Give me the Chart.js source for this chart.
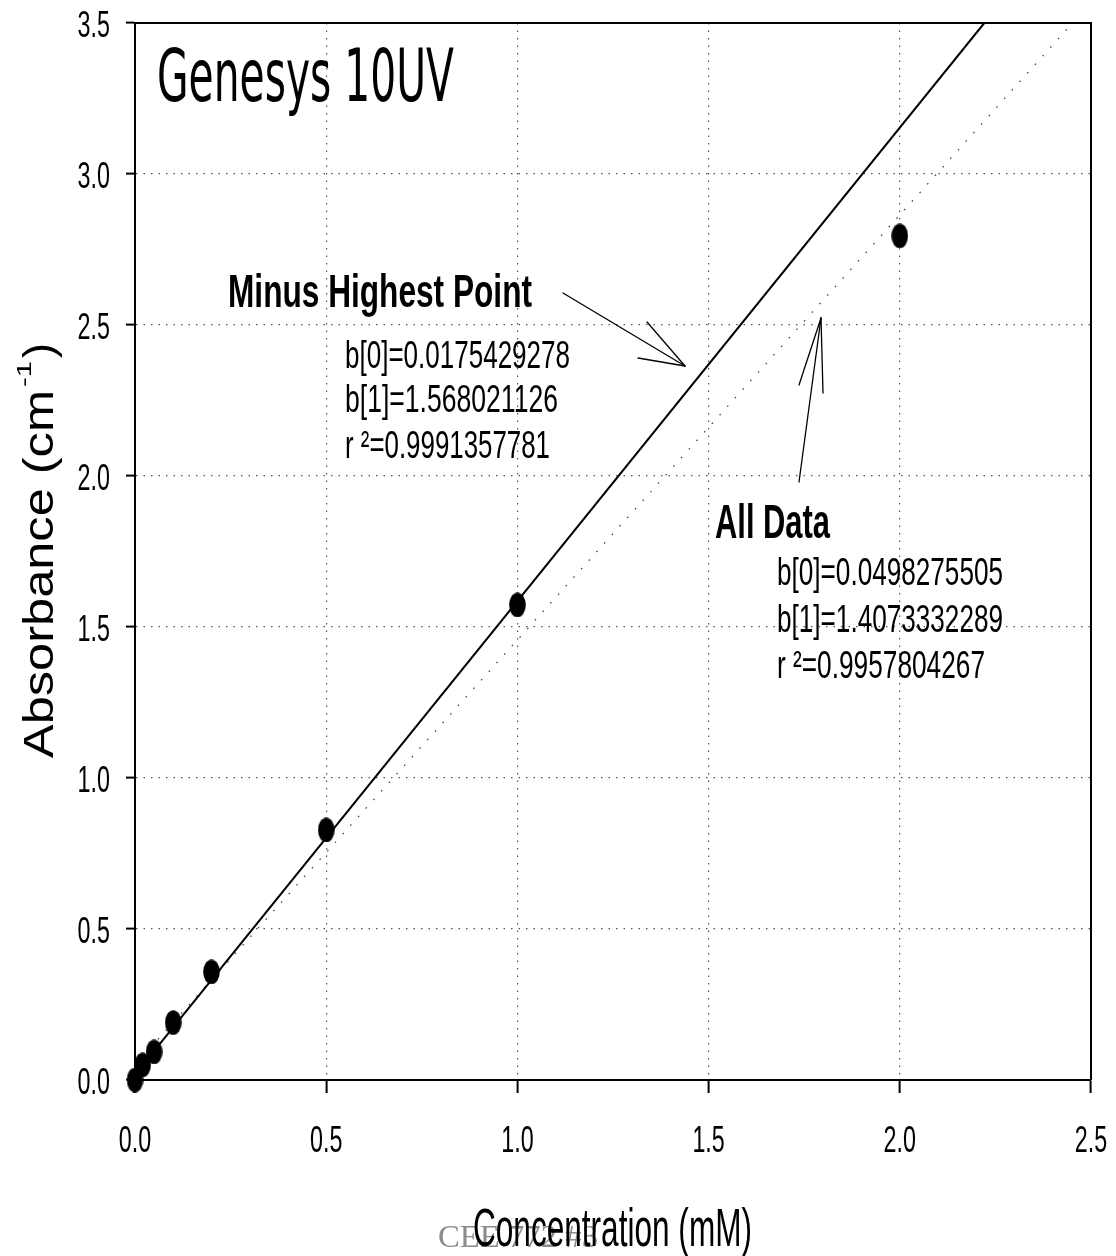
<!DOCTYPE html>
<html>
<head>
<meta charset="utf-8">
<script src="https://cdn.jsdelivr.net/npm/chart.js@4.4.0/dist/chart.umd.min.js"></script>
<style>
html,body{margin:0;padding:0;background:#fff;}
#wrap{width:1116px;height:1256px;}
</style>
</head>
<body>
<div id="wrap"><canvas id="c" width="1116" height="1256"></canvas></div>
<script>
// ---- data ----
const concentration = [0, 0.02, 0.05, 0.1, 0.2, 0.5, 1.0, 2.0];          // mM
const absorbance    = [0.0, 0.05, 0.093, 0.19, 0.358, 0.828, 1.573, 2.795]; // cm^-1

// fitted lines (end points as drawn)
const fitMinusHighestX = [0, 2.2209];
const fitMinusHighestY = [0.0175, 3.5];
const fitAllDataX      = [0, 2.4516];
const fitAllDataY      = [0.0498, 3.5];

const xTickLabels = ['0.0', '0.5', '1.0', '1.5', '2.0', '2.5'];
const yTickLabels = ['0.0', '0.5', '1.0', '1.5', '2.0', '2.5', '3.0', '3.5'];

const chartTitle = 'Genesys 10UV';
const xTitle = 'Concentration (mM)';
const yTitleMain = 'Absorbance (cm';
const yTitleSup = '-1';
const yTitleEnd = ')';
const footerText = 'CEE 772 #3';
const minusLabel = 'Minus Highest Point';
const minusStats = ['b[0]=0.0175429278', 'b[1]=1.568021126', 'r \u00b2=0.9991357781'];
const allLabel = 'All Data';
const allStats = ['b[0]=0.0498275505', 'b[1]=1.4073332289', 'r \u00b2=0.9957804267'];

const zip = (xs, ys) => xs.map((x, i) => ({x: x, y: ys[i]}));

// ellipse marker
const marker = document.createElement('canvas');
marker.width = 17; marker.height = 25;
(function(){
  const m = marker.getContext('2d');
  m.fillStyle = '#000';
  m.beginPath();
  m.ellipse(8.5, 12.5, 8.3, 12.3, 0, 0, Math.PI * 2);
  m.fill();
})();

const SANS = "'Liberation Sans', Arial, sans-serif";

function fitText(ctx, text, x, y, font, width, align) {
  ctx.font = font;
  const w = ctx.measureText(text).width;
  const sx = width / w;
  ctx.save();
  ctx.translate(x, y);
  ctx.scale(sx, 1);
  let ox = 0;
  if (align === 'center') ox = -w / 2;
  else if (align === 'right') ox = -w;
  ctx.textAlign = 'left';
  ctx.textBaseline = 'alphabetic';
  ctx.fillText(text, ox, 0);
  ctx.restore();
}

function scaledText(ctx, text, x, y, font, sx, align) {
  ctx.font = font;
  const w = ctx.measureText(text).width;
  fitText(ctx, text, x, y, font, w * sx, align);
}

const decorations = {
  id: 'decorations',
  afterDraw(chart) {
    const ctx = chart.ctx;
    const a = chart.chartArea;
    const xs = chart.scales.x, ys = chart.scales.y;
    ctx.save();
    // frame (top & right)
    ctx.strokeStyle = '#000';
    ctx.lineWidth = 2;
    ctx.beginPath();
    ctx.moveTo(a.left, a.top);
    ctx.lineTo(a.right, a.top);
    ctx.lineTo(a.right, a.bottom);
    ctx.stroke();

    ctx.fillStyle = '#000';
    // tick labels (condensed)
    const tickFont = '37px ' + SANS;
    xs.ticks.forEach((t, i) => {
      const px = xs.getPixelForTick(i);
      scaledText(ctx, t.label, px, a.bottom + 72, tickFont, 0.63, 'center');
    });
    ys.ticks.forEach((t, i) => {
      const py = ys.getPixelForTick(i);
      scaledText(ctx, t.label, a.left - 25, py + 13.5, tickFont, 0.63, 'right');
    });

    // footer (gray, behind axis title)
    ctx.fillStyle = '#8c8c8c';
    fitText(ctx, footerText, 438, 1247, "32px 'Liberation Serif', 'Times New Roman', serif", 160, 'left');

    ctx.fillStyle = '#000';
    // x axis title
    fitText(ctx, xTitle, 473, 1246, '53px ' + SANS, 279, 'left');

    // y axis title (rotated)
    ctx.save();
    ctx.translate(53, 758);
    ctx.rotate(-Math.PI / 2);
    fitText(ctx, yTitleMain, 0, 0, '43px ' + SANS, 368, 'left');
    fitText(ctx, yTitleSup, 371, -22, '20px ' + SANS, 26, 'left');
    fitText(ctx, yTitleEnd, 400, 0, '43px ' + SANS, 15, 'left');
    ctx.restore();

    // chart title
    fitText(ctx, chartTitle, 157, 101, "73px 'DejaVu Sans', sans-serif", 297, 'left');

    // annotations
    fitText(ctx, minusLabel, 228, 307, 'bold 46px ' + SANS, 304, 'left');
    const mw = [225, 213, 205];
    const mb = [368, 412, 458];
    minusStats.forEach((s, i) => fitText(ctx, s, 345, mb[i], '38px ' + SANS, mw[i], 'left'));

    fitText(ctx, allLabel, 715, 538, 'bold 48px ' + SANS, 115, 'left');
    const aw = [226, 226, 208];
    const ab = [585, 632, 678];
    allStats.forEach((s, i) => fitText(ctx, s, 777, ab[i], '38px ' + SANS, aw[i], 'left'));

    // arrows
    ctx.strokeStyle = '#000';
    ctx.lineWidth = 1.3;
    ctx.lineCap = 'round';
    const seg = (x1, y1, x2, y2) => { ctx.beginPath(); ctx.moveTo(x1, y1); ctx.lineTo(x2, y2); ctx.stroke(); };
    seg(563, 293, 685, 366);
    seg(685, 366, 647, 322);
    seg(685, 366, 638, 358);
    seg(799, 482, 821, 318);
    seg(821, 318, 799, 385);
    seg(821, 318, 823, 393);
    ctx.restore();
  }
};

new Chart(document.getElementById('c'), {
  type: 'scatter',
  data: {
    datasets: [
      {
        label: 'Data',
        data: zip(concentration, absorbance),
        pointStyle: marker,
        pointRadius: 9,
        pointHoverRadius: 9,
        showLine: false,
        clip: false
      },
      {
        label: 'Minus Highest Point',
        data: zip(fitMinusHighestX, fitMinusHighestY),
        showLine: true,
        borderColor: '#000',
        borderWidth: 2,
        pointRadius: 0,
        fill: false
      },
      {
        label: 'All Data',
        data: zip(fitAllDataX, fitAllDataY),
        showLine: true,
        borderColor: '#444',
        borderWidth: 1.3,
        borderDash: [1.5, 10],
        pointRadius: 0,
        fill: false
      }
    ]
  },
  options: {
    responsive: false,
    animation: false,
    events: [],
    layout: { padding: { left: 126, right: 25, top: 23, bottom: 163 } },
    plugins: { legend: { display: false }, tooltip: { enabled: false } },
    scales: {
      x: {
        type: 'linear',
        min: 0, max: 2.5,
        ticks: { display: false, stepSize: 0.5, callback: (v, i) => xTickLabels[i] },
        grid: { color: '#555', lineWidth: 1.2, drawTicks: true, tickLength: 13, tickColor: '#000', tickWidth: 2, tickBorderDash: [] },
        border: { display: true, color: '#000', width: 2, dash: [1.5, 6] }
      },
      y: {
        type: 'linear',
        min: 0, max: 3.5,
        ticks: { display: false, stepSize: 0.5, callback: (v, i) => yTickLabels[i] },
        grid: { color: '#555', lineWidth: 1.2, drawTicks: true, tickLength: 9, tickColor: '#000', tickWidth: 2, tickBorderDash: [] },
        border: { display: true, color: '#000', width: 2, dash: [1.5, 6] }
      }
    }
  },
  plugins: [decorations]
});
</script>
</body>
</html>
